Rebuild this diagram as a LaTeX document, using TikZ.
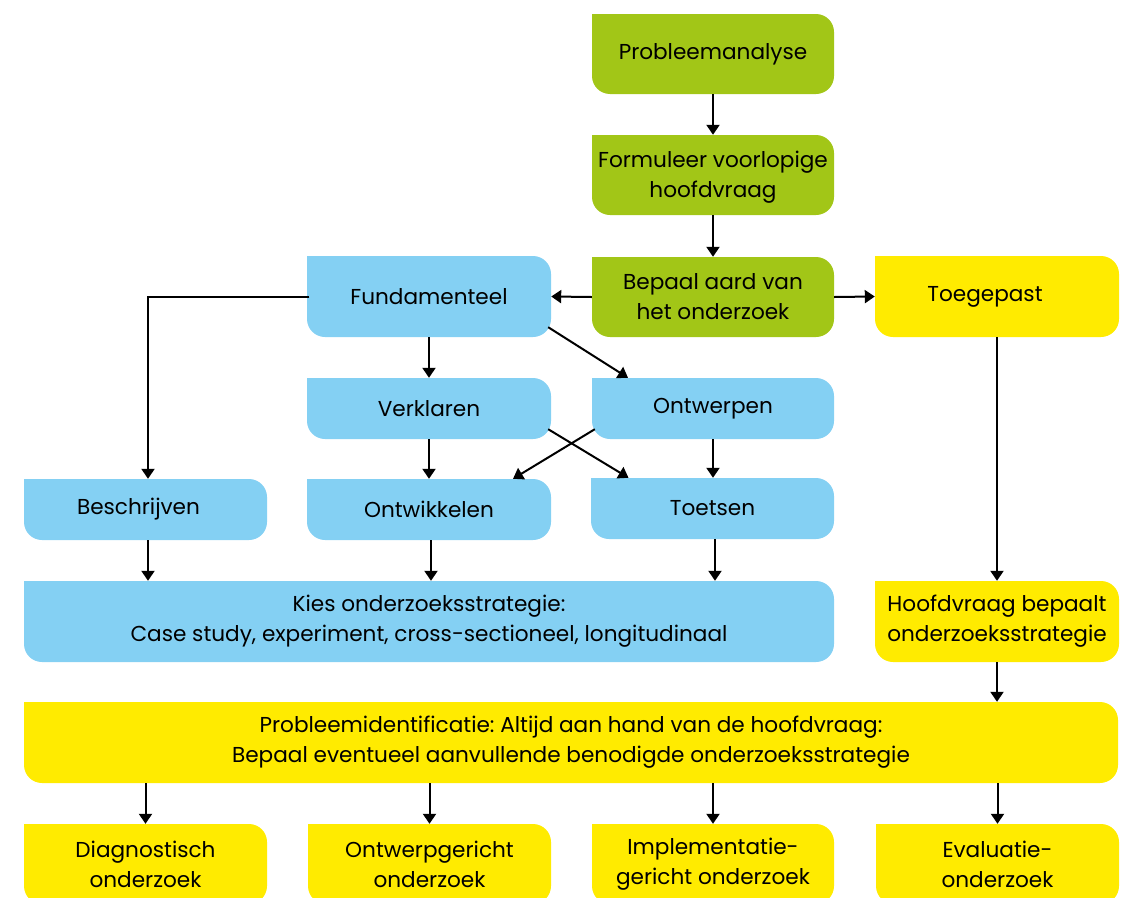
\documentclass[tikz,border=0pt]{standalone}
\usepackage{fontspec}
\setmainfont{Poppins}
\frenchspacing
\usetikzlibrary{arrows.meta,calc,backgrounds}
\definecolor{cgreen}{RGB}{162,198,23}
\definecolor{cblue}{RGB}{132,208,243}
\definecolor{cyellow}{RGB}{255,235,0}
\tikzset{
  box/.style={rounded corners=18pt, inner sep=0pt, align=center,
    font=\fontsize{21.6}{30}\selectfont\frenchspacing, text=black},
  gbox/.style={box, fill=cgreen},
  bbox/.style={box, fill=cblue},
  ybox/.style={box, fill=cyellow},
  arr/.style={line width=2pt, -{Triangle[length=10pt,width=13pt]}}
}
\begin{document}
\begin{tikzpicture}[x=1pt,y=-1pt]
\useasboundingbox (0,0) rectangle (1127,897);
\clip (0,0) rectangle (1127,897);
% green
\node[gbox, minimum width=242pt, minimum height=80pt] (pa) at (713,54) {Probleemanalyse};
\node[gbox, minimum width=242pt, minimum height=80pt] (fv) at (713,175) {\rule{0pt}{20pt}Formuleer voorlopige\\hoofdvraag};
\node[gbox, minimum width=242pt, minimum height=80pt] (ba) at (713,297) {Bepaal aard van\\het onderzoek};
% blue
\node[bbox, minimum width=244pt, minimum height=81pt] (fu) at (429,296.5) {Fundamenteel};
\node[ybox, minimum width=244pt, minimum height=81pt] (tg) at (997,296.5) {Toegepast\hspace*{24pt}};
\node[bbox, minimum width=244pt, minimum height=61pt] (vk) at (429,408.5) {Verklaren};
\node[bbox, minimum width=242pt, minimum height=61pt] (ow) at (713,408.5) {Ontwerpen};
\node[bbox, minimum width=243pt, minimum height=61pt] (bs) at (145.5,509.5) {Beschrijven\hspace*{14pt}};
\node[bbox, minimum width=244pt, minimum height=61pt] (on) at (429,509.5) {Ontwikkelen};
\node[bbox, minimum width=243pt, minimum height=61pt] (ts) at (712.5,508.5) {Toetsen};
\node[bbox, minimum width=810pt, minimum height=81pt] (ks) at (429,621.5) {Kies onderzoeksstrategie:\\Case study, experiment, cross-sectioneel, longitudinaal};
\node[ybox, minimum width=244pt, minimum height=81pt] (hb) at (997,621.5) {Hoofdvraag bepaalt\\onderzoeksstrategie};
\node[ybox, minimum width=1094pt, minimum height=81pt] (pi) at (571,742.5) {Probleemidentificatie: Altijd aan hand van de hoofdvraag:\\Bepaal eventueel aanvullende benodigde onderzoeksstrategie};
\node[ybox, minimum width=243pt, minimum height=80pt] (d1) at (145.5,864) {Diagnostisch\\onderzoek};
\node[ybox, minimum width=243pt, minimum height=80pt] (d2) at (429.5,864) {Ontwerpgericht\\onderzoek};
\node[ybox, minimum width=242pt, minimum height=80pt] (d3) at (713,864) {Implementatie-\\gericht onderzoek};
\node[ybox, minimum width=243pt, minimum height=80pt] (d4) at (997.5,864) {Evaluatie-\\onderzoek};
% square top-left corners
\begin{scope}[on background layer]
\foreach \n/\c in {pa/cgreen,fv/cgreen,ba/cgreen,fu/cblue,tg/cyellow,vk/cblue,ow/cblue,bs/cblue,on/cblue,ts/cblue,ks/cblue,hb/cyellow,pi/cyellow,d1/cyellow,d2/cyellow,d3/cyellow,d4/cyellow}
  \fill[\c] (\n.north west) rectangle ++(20pt,-20pt);
\end{scope}
% connectors
\draw[arr] (pa) -- (fv);
\draw[arr] (fv) -- (ba);
\draw[arr] (ba.west) -- (fu.east);
\draw[arr] (ba.east) -- (tg.west);
\draw[arr] (fu) -- (vk);
\draw[arr] ([shift={(-3pt,10pt)}]fu.south east) -- ([xshift=-85pt]ow.north);
\draw[arr] ([xshift=2.5pt]fu.west) -| ([xshift=2.5pt]bs.north);
\draw[arr] (vk) -- (on);
\draw[arr] ([shift={(-3pt,10pt)}]vk.south east) -- ([xshift=-84pt]ts.north);
\draw[arr] ([shift={(3pt,10pt)}]ow.south west) -- ([xshift=84pt]on.north);
\draw[arr] (ow.south) -- (ow.south |- ts.north);
\draw[arr] ([xshift=2.5pt]bs.south) -- ([xshift=2.5pt]bs.south |- ks.north);
\draw[arr] ([xshift=2pt]on.south) -- ([xshift=2pt]on.south |- ks.north);
\draw[arr] ([xshift=2.5pt]ts.south) -- ([xshift=2.5pt]ts.south |- ks.north);
\draw[arr] (tg) -- (hb);
\draw[arr] (hb) -- (hb.south |- pi.north);
\draw[arr] (d1.north |- pi.south) -- (d1.north);
\draw[arr] (d2.north |- pi.south) -- (d2.north);
\draw[arr] (d3.north |- pi.south) -- (d3.north);
\draw[arr] (d4.north |- pi.south) -- (d4.north);
\end{tikzpicture}
\end{document}
